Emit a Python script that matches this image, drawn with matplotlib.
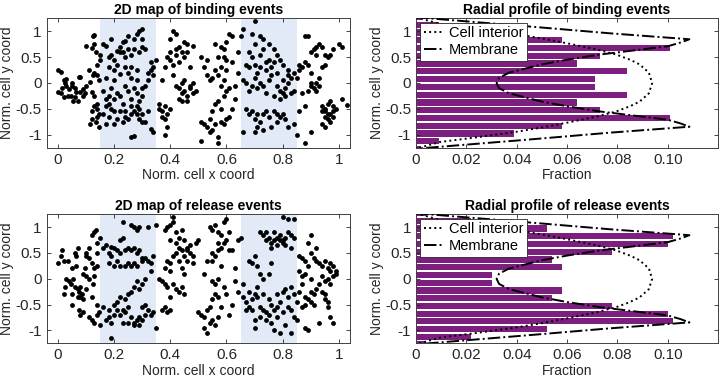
import matplotlib
matplotlib.use('Agg')
import matplotlib.pyplot as plt

plt.rcParams['font.family'] = ['Liberation Sans', 'DejaVu Sans']
plt.rcParams['font.size'] = 10

# binding events (normalised cell coords)
bind_x = [0.0, 0.01, 0.0, 0.01, 0.02, 0.02, 0.03, 0.03, 0.04, 0.045, 0.05, 0.05, 0.06, 0.06, 0.065, 0.07,
          0.075, 0.08, 0.08, 0.09, 0.09, 0.095, 0.1, 0.1, 0.055, 0.035, 0.015, 0.025,
          0.11, 0.115, 0.12, 0.12, 0.12, 0.115, 0.125, 0.13, 0.13, 0.135, 0.14, 0.14, 0.14, 0.135, 0.145,
          0.145, 0.13, 0.14, 0.13, 0.13, 0.15, 0.15, 0.12, 0.145, 0.125, 0.14,
          0.16, 0.17, 0.18, 0.18, 0.19, 0.2, 0.2, 0.21, 0.22, 0.22, 0.23, 0.23, 0.24, 0.24, 0.25, 0.25,
          0.26, 0.27, 0.28, 0.29, 0.29, 0.3, 0.3, 0.31, 0.28, 0.26, 0.24, 0.21, 0.19, 0.27, 0.3, 0.32,
          0.33, 0.33, 0.34, 0.34, 0.35, 0.32, 0.17, 0.2, 0.22, 0.25, 0.26, 0.28,
          0.16, 0.17, 0.18, 0.19, 0.2, 0.21, 0.22, 0.23, 0.24, 0.25, 0.26, 0.27, 0.28, 0.29, 0.3, 0.3,
          0.31, 0.17, 0.18, 0.19, 0.2, 0.26,
          0.16, 0.17, 0.2, 0.21, 0.22, 0.23, 0.24, 0.25, 0.26, 0.27, 0.28, 0.29, 0.3, 0.31, 0.33, 0.34,
          0.32, 0.27, 0.26, 0.24, 0.18, 0.3, 0.29, 0.28,
          0.36, 0.37, 0.37, 0.38, 0.38, 0.39, 0.39, 0.4, 0.38, 0.36, 0.37, 0.38, 0.39, 0.4, 0.4, 0.41,
          0.42, 0.42, 0.43, 0.43, 0.44, 0.45, 0.46, 0.45, 0.47, 0.48, 0.41, 0.42, 0.43, 0.44, 0.44, 0.45,
          0.46, 0.47, 0.48, 0.49, 0.43, 0.44, 0.46, 0.47, 0.45, 0.4, 0.41, 0.48, 0.42, 0.46,
          0.51, 0.52, 0.51, 0.53, 0.54, 0.54, 0.55, 0.56, 0.57, 0.57, 0.58, 0.59, 0.6, 0.61, 0.55, 0.56,
          0.57, 0.58, 0.59, 0.6, 0.58, 0.57, 0.56, 0.58, 0.59, 0.6, 0.57, 0.56, 0.58, 0.59, 0.6, 0.61,
          0.62, 0.64, 0.62, 0.6, 0.53, 0.52, 0.51, 0.53, 0.54, 0.55, 0.61, 0.63, 0.64, 0.62, 0.63, 0.65,
          0.66, 0.59,
          0.66, 0.67, 0.68, 0.68, 0.69, 0.7, 0.7, 0.71, 0.72, 0.72, 0.73, 0.73, 0.74, 0.75, 0.76, 0.77,
          0.78, 0.79, 0.7, 0.69, 0.74, 0.72, 0.75, 0.77, 0.8, 0.78,
          0.67, 0.68, 0.69, 0.7, 0.71, 0.72, 0.73, 0.74, 0.75, 0.76, 0.78, 0.79, 0.8, 0.81, 0.82, 0.83,
          0.84, 0.8, 0.82, 0.84, 0.85, 0.83, 0.81, 0.79, 0.77, 0.82,
          0.67, 0.68, 0.69, 0.7, 0.7, 0.71, 0.72, 0.73, 0.74, 0.75, 0.76, 0.77, 0.78, 0.79, 0.8, 0.81,
          0.82, 0.84, 0.85, 0.66, 0.71, 0.73, 0.78,
          0.86, 0.87, 0.86, 0.88, 0.89, 0.9, 0.88, 0.89, 0.9, 0.91, 0.92, 0.93, 0.94, 0.95, 0.96, 0.97,
          0.95, 0.94, 0.93, 0.9, 0.9, 0.91, 0.92, 0.93, 0.89, 0.88, 0.9, 0.88, 0.86, 0.87, 0.92, 1.0,
          1.01, 0.98, 0.94, 0.95, 0.95, 0.96, 0.97, 0.98, 0.96, 0.95, 0.94, 0.95, 0.97, 0.98, 1.01, 1.03,
          0.99, 0.96, 0.97, 0.94, 0.98, 0.92]
bind_y = [0.25, 0.22, -0.18, -0.2, -0.28, 0.05, -0.05, 0.08, -0.12, -0.25, -0.05, 0.0, -0.1, -0.28, -0.18, -0.35,
          0.12, 0.12, -0.17, -0.25, -0.12, -0.2, -0.05, 0.72, -0.35, -0.25, -0.1, 0.0,
          0.25, 0.02, -0.18, -0.55, -0.7, -0.8, 0.9, 0.92, 0.75, 0.6, -0.4, -0.5, -0.65, -0.75, -0.85,
          -0.6, 0.2, 0.15, -0.25, -0.45, 0.55, 0.45, 0.68, 0.05, 0.15, 0.35,
          0.75, 0.72, 0.3, 0.5, 0.55, 0.45, 0.25, 0.35, 0.7, 0.6, 0.6, 0.8, 0.82, 0.5, 0.9, 0.65,
          0.55, 0.65, 0.95, 1.0, 0.6, 1.05, 0.7, 0.65, 0.25, 0.3, 0.3, 0.62, 0.85, 0.85, 0.85, 0.2,
          0.4, 0.25, 0.15, 0.3, 0.45, 0.05, 0.1, 0.05, 0.18, 0.2, 0.1, 0.05,
          -0.15, -0.3, -0.25, -0.1, -0.3, -0.2, -0.25, -0.4, -0.05, -0.15, -0.3, -0.1, -0.2, -0.35, -0.25, -0.1,
          -0.05, -0.45, -0.4, -0.5, -0.55, -0.45,
          -0.6, -0.8, -0.8, -0.7, -0.55, -0.75, -0.65, -0.7, -0.6, -0.55, -0.6, -0.7, -0.75, -0.75, -0.88, -0.95,
          -0.55, -1.02, -1.05, -0.55, -0.65, -0.6, -0.5, -0.45,
          -0.5, -0.55, -0.65, -0.45, -0.7, -0.6, -0.85, -0.5, -1.0, -0.4, 0.05, 0.3, 0.5, 0.6, 0.85, 1.0,
          0.95, 0.55, 0.7, 0.4, 0.6, 0.8, 0.75, 0.5, 0.3, 0.72, 0.15, -0.05, -0.1, 0.0, -0.2, -0.15,
          -0.25, -0.1, -0.2, -0.15, -0.3, -0.35, -0.35, -0.05, 0.05, 0.45, 0.35, 0.0, 0.65, 0.6,
          -0.75, -0.8, -1.12, -0.85, -0.7, -0.95, -0.9, -0.8, -1.05, -1.15, -0.75, -0.8, -0.7, -0.65, -0.55, -0.4,
          -0.35, -0.5, -0.25, -0.15, -0.05, 0.15, 0.25, 0.3, 0.5, 0.45, 0.5, 0.75, 0.7, 0.65, 0.8, 0.95,
          0.9, 0.6, 0.4, 0.25, 0.15, 0.3, 0.5, 0.45, 0.05, 0.1, -0.1, -0.05, 0.2, -0.5, -0.3, 0.9,
          1.05, 0.05,
          0.05, 0.35, 0.3, 0.6, 0.5, 0.75, 0.35, 0.2, 0.55, 0.9, 0.85, 0.65, 0.4, 0.75, 0.3, 0.65,
          0.2, 0.45, 1.2, 0.95, 0.25, 0.3, 0.45, 0.4, 0.35, 0.55,
          0.0, -0.15, -0.05, 0.1, -0.1, 0.0, -0.05, -0.2, 0.05, 0.15, -0.05, -0.15, -0.2, -0.1, 0.0, -0.2,
          -0.15, 0.05, 0.25, 0.2, 0.1, 0.1, -0.25, -0.3, -0.25, 0.15,
          -0.5, -0.6, -0.55, -0.7, -0.95, -0.85, -0.75, -0.6, -0.55, -0.65, -0.85, -0.55, -0.6, -0.65, -0.6, -0.7,
          -0.85, -0.8, -1.0, -0.95, -0.6, -0.9, -0.75,
          0.35, 0.3, 0.25, 0.4, 0.35, 0.2, 0.9, 0.9, 0.6, 0.65, 0.7, 0.75, 0.7, 0.55, 0.5, 0.55,
          0.35, 0.3, 0.1, 0.0, -0.05, -0.1, -0.15, -0.05, -0.15, -0.45, -0.95, -1.15, -0.55, -0.2, 0.0, 0.75,
          0.7, 0.65, -0.45, -0.5, -0.55, -0.6, -0.6, -0.65, -0.4, -0.65, -0.8, -0.85, -0.35, -0.45, -0.3, -0.42,
          -0.5, -0.7, -0.75, -0.55, -0.55, 0.55]

# release events
rel_x = [0.0, 0.01, 0.015, 0.02, 0.02, 0.025, 0.03, 0.035, 0.04, 0.045, 0.05, 0.05, 0.055, 0.06, 0.065, 0.065,
         0.07, 0.07, 0.075, 0.08, 0.08, 0.085, 0.09, 0.09, 0.095, 0.1, 0.1, 0.1, 0.11, 0.11, 0.11, 0.12,
         0.12, 0.13, 0.135, 0.14, 0.14, 0.14, 0.145, 0.13, 0.15, 0.12, 0.13, 0.07, 0.08, 0.075, 0.125, 0.13,
         0.12, 0.14, 0.15, 0.06, 0.09, 0.05, 0.11, 0.14, 0.1,
         0.16, 0.17, 0.18, 0.19, 0.2, 0.21, 0.22, 0.23, 0.22, 0.24, 0.25, 0.26, 0.27, 0.28, 0.29, 0.24,
         0.22, 0.25, 0.26, 0.27, 0.28, 0.3, 0.31, 0.32, 0.33, 0.33, 0.34, 0.35, 0.32, 0.27, 0.28, 0.29,
         0.26, 0.23, 0.19, 0.21, 0.3, 0.18, 0.2,
         0.16, 0.17, 0.18, 0.19, 0.2, 0.21, 0.22, 0.23, 0.24, 0.25, 0.26, 0.27, 0.28, 0.29, 0.3, 0.31,
         0.32, 0.33, 0.34, 0.35, 0.19, 0.22, 0.24, 0.25, 0.26, 0.27, 0.28, 0.29, 0.3, 0.31, 0.25, 0.27,
         0.29, 0.31, 0.3, 0.21, 0.2, 0.23, 0.18,
         0.36, 0.37, 0.37, 0.38, 0.39, 0.4, 0.38, 0.39, 0.4, 0.41, 0.41, 0.42, 0.43, 0.44, 0.45, 0.46,
         0.47, 0.48, 0.47, 0.45, 0.44, 0.43, 0.42, 0.41, 0.4, 0.39, 0.38, 0.4, 0.41, 0.42, 0.43, 0.44,
         0.45, 0.39, 0.38, 0.4, 0.44, 0.46, 0.48, 0.49, 0.5, 0.45, 0.46, 0.42, 0.4, 0.43,
         0.5, 0.51, 0.52, 0.52, 0.53, 0.54, 0.55, 0.56, 0.57, 0.53, 0.54, 0.55, 0.56, 0.57, 0.58, 0.55,
         0.56, 0.57, 0.53, 0.55, 0.56, 0.57, 0.58, 0.59, 0.6, 0.61, 0.62, 0.54, 0.55, 0.56, 0.57, 0.58,
         0.59, 0.6, 0.57, 0.61, 0.63, 0.64, 0.62, 0.61, 0.6, 0.59, 0.58, 0.52, 0.55, 0.63, 0.64, 0.65,
         0.72, 0.73, 0.74, 0.75, 0.76, 0.77, 0.78, 0.79, 0.8, 0.81, 0.82, 0.83, 0.84, 0.8, 0.82, 0.84,
         0.76, 0.78, 0.8, 0.74, 0.77, 0.79, 0.81, 0.83, 0.7, 0.68, 0.69, 0.71, 0.72, 0.73, 0.76, 0.75,
         0.66, 0.67, 0.68, 0.69, 0.7, 0.71, 0.72, 0.73, 0.74, 0.75, 0.76, 0.77, 0.78, 0.79, 0.8, 0.81,
         0.82, 0.83, 0.84, 0.7, 0.72, 0.74, 0.76, 0.77, 0.79, 0.81, 0.83, 0.84, 0.85, 0.66, 0.68, 0.69,
         0.71, 0.73, 0.75, 0.78, 0.8, 0.82, 0.85, 0.67, 0.7, 0.78, 0.83, 0.86,
         0.86, 0.87, 0.88, 0.89, 0.9, 0.91, 0.92, 0.93, 0.94, 0.95, 0.96, 0.97, 0.98, 0.99, 0.98, 0.97,
         0.96, 0.95, 0.94, 0.93, 0.92, 0.91, 0.9, 0.89, 0.88, 0.87, 0.88, 0.9, 0.91, 0.95, 0.96, 0.97,
         0.98, 0.93, 0.88, 0.89, 0.86, 0.87, 0.9, 0.92, 0.9, 0.89, 0.95, 0.97, 0.99, 0.94, 0.96, 0.87,
         0.88]
rel_y = [0.3, 0.45, 0.55, 0.35, -0.3, -0.15, 0.0, 0.35, -0.05, -0.1, -0.5, -0.3, 0.0, -0.15, 0.25, 0.45,
         0.6, -0.2, -0.25, -0.15, -0.35, -0.3, -0.4, 0.1, 0.2, -0.2, 0.5, 0.45, 0.6, 0.4, -0.75, -0.8,
         0.85, 0.9, 0.95, 0.7, 0.5, -0.5, -0.65, -0.85, -0.9, 0.3, 0.2, -0.35, -0.7, -0.6, -0.1, 0.05,
         -0.35, -0.7, 0.8, 0.5, -0.65, 0.2, 0.0, 0.25, 0.05,
         0.6, 0.65, 0.5, 0.62, 0.6, 0.55, 0.75, 0.8, 0.5, 0.55, 0.6, 0.55, 0.6, 0.5, 0.55, 0.25,
         0.25, 0.3, 0.25, 0.3, 0.25, 0.35, 0.4, 0.35, 0.3, 0.15, 0.45, 1.05, 1.0, 1.0, 0.95, 1.0,
         1.05, 1.1, 0.45, 0.35, 0.4, 0.3, 0.25,
         -0.55, -0.8, -0.75, -0.85, -0.7, -0.6, -0.7, -0.6, -0.65, -0.55, -0.75, -0.85, -0.8, -0.9, -0.8, -0.7,
         -0.6, -0.7, -0.65, -0.95, -1.15, -0.35, -0.4, -0.3, -0.25, -0.15, -0.05, -0.2, -0.1, 0.0, -0.85, -0.9,
         -0.75, -0.5, -0.55, -0.45, -0.5, -0.85, -0.6,
         0.0, -0.05, -0.6, -0.55, -0.65, -0.6, 0.95, 1.0, 1.05, 1.2, 1.1, 0.9, 0.8, 0.95, 0.75, 0.6,
         0.5, 0.45, 0.65, 0.45, 0.55, 0.6, 0.5, 0.45, 0.3, 0.35, 0.2, 0.15, -0.1, -0.2, -0.25, -0.15,
         -0.3, -0.15, -0.1, -0.35, 0.2, 0.35, 0.3, 0.7, 0.75, 0.1, 0.55, 0.7, 0.75, 0.35,
         -0.65, -0.7, -0.75, -0.95, -1.05, -0.85, -0.8, -0.9, -0.75, -0.6, -0.55, -0.4, -0.3, -0.35, -0.55, -0.05,
         -0.1, 0.0, 0.35, 0.35, 0.45, 0.55, 0.6, 0.7, 0.75, 0.55, 0.55, 1.0, 0.95, 1.05, 0.9, 0.85,
         1.1, 1.15, 0.7, 0.9, -0.05, -0.25, -0.5, -0.7, -0.3, -0.15, 0.25, 0.1, 0.5, 0.2, 0.75, 0.8,
         0.9, 0.85, 0.75, 0.8, 0.7, 0.75, 0.8, 0.85, 0.75, 0.8, 0.9, 0.85, 0.8, 1.2, 1.15, 1.15,
         0.6, 0.65, 0.7, 0.9, 0.9, 0.75, 0.65, 0.6, 0.45, 0.35, 0.3, 0.25, 0.1, 0.0, 0.3, 0.1,
         -0.35, -0.45, -0.55, -0.6, -0.3, -0.35, -0.55, -0.6, -0.65, -0.4, -0.5, -0.6, -0.55, -0.45, -0.25, -0.2,
         -0.35, -0.15, -0.3, -0.95, -0.75, -0.8, -0.85, -1.0, -1.05, -0.9, -1.05, -0.75, -0.8, -0.1, -0.25, -0.4,
         -0.15, -0.3, -0.7, -0.75, -0.65, -0.55, -0.45, -0.6, -0.8, -0.3, -0.6, -0.25,
         0.45, 0.4, 0.35, 0.25, 0.5, 0.4, 0.35, 0.3, 0.25, 0.35, 0.2, 0.3, 0.25, 0.15, 0.05, 0.15,
         0.0, -0.05, 0.05, -0.1, -0.2, -0.3, -0.25, -0.4, -0.5, -0.55, -0.35, -0.45, -0.5, -0.4, -0.45, -0.75,
         -0.85, -0.85, -0.95, -1.0, 0.15, 0.05, 0.0, 0.6, 0.85, 0.7, -0.3, -0.1, 0.1, -0.25, -0.55, -0.1,
         0.1]

# radial profile histograms
bin_centers = [-1.275, -1.125, -0.975, -0.825, -0.675, -0.525, -0.375, -0.225, -0.075,
               0.075, 0.225, 0.375, 0.525, 0.675, 0.825, 0.975, 1.125, 1.275]
bind_frac = [0.002, 0.009, 0.039, 0.058, 0.101, 0.073, 0.064, 0.084, 0.071,
             0.071, 0.084, 0.064, 0.073, 0.101, 0.058, 0.039, 0.009, 0.002]
rel_frac = [0.004, 0.022, 0.052, 0.102, 0.100, 0.078, 0.054, 0.058, 0.030,
            0.030, 0.058, 0.054, 0.078, 0.100, 0.102, 0.052, 0.022, 0.004]

# model curves
interior_y = [1.27, 1.14, 1.05, 0.95, 0.86, 0.77, 0.65, 0.55, 0.45, 0.36, 0.2, 0.0,
              -0.2, -0.36, -0.45, -0.55, -0.65, -0.77, -0.86, -0.95, -1.05, -1.14, -1.27]
interior_x = [0.0, 0.0095, 0.024, 0.039, 0.05, 0.0597, 0.0716, 0.0795, 0.085, 0.0888, 0.0925, 0.0938,
              0.0925, 0.0888, 0.085, 0.0795, 0.0716, 0.0597, 0.05, 0.039, 0.024, 0.0095, 0.0]
membrane_y = [1.27, 1.1, 0.96, 0.845, 0.78, 0.71, 0.62, 0.55, 0.45, 0.36, 0.2, 0.1, 0.0,
              -0.1, -0.2, -0.36, -0.45, -0.55, -0.62, -0.71, -0.78, -0.845, -0.96, -1.1, -1.27]
membrane_x = [0.0, 0.043, 0.077, 0.1086, 0.105, 0.1, 0.085, 0.073, 0.06, 0.05, 0.037, 0.033, 0.032,
              0.033, 0.037, 0.05, 0.06, 0.073, 0.085, 0.1, 0.105, 0.1086, 0.077, 0.043, 0.0]

bands = [(0.15, 0.35), (0.65, 0.85)]

fig = plt.figure(figsize=(7.21, 3.78), dpi=100)
frame_col = '#404040'


def style_axes(ax):
    ax.tick_params(direction='in', top=True, right=True, length=3, width=0.6,
                   colors='#262626', labelsize=11)
    for s in ax.spines.values():
        s.set_color(frame_col)
        s.set_linewidth(0.7)
    ax.set_yticks([-1, -0.5, 0, 0.5, 1])
    ax.set_yticklabels(['-1', '-0.5', '0', '0.5', '1'])
    ax.set_ylim(-1.25, 1.25)


def map_panel(rect, xs, ys, title):
    ax = fig.add_axes(rect)
    for a, b in bands:
        ax.axvspan(a, b, color='#e1eaf6', lw=0, zorder=0)
    ax.scatter(xs, ys, s=12, c='black', linewidths=0, zorder=2)
    ax.set_xlim(-0.04, 1.04)
    ax.set_xticks([0, 0.2, 0.4, 0.6, 0.8, 1])
    ax.set_xticklabels(['0', '0.2', '0.4', '0.6', '0.8', '1'])
    style_axes(ax)
    ax.set_title(title, fontsize=10, fontweight='bold', pad=3)
    ax.set_xlabel('Norm. cell x coord', labelpad=1, color='#262626')
    ax.set_ylabel('Norm. cell y coord', labelpad=1, color='#262626')
    return ax


def profile_panel(rect, frac, title):
    ax = fig.add_axes(rect)
    ax.barh(bin_centers, frac, height=0.12, color='#7d1f7f', zorder=1)
    ax.plot(interior_x, interior_y, ':', color='black', lw=1.4, label='Cell interior', zorder=3)
    ax.plot(membrane_x, membrane_y, '-.', color='black', lw=1.4, label='Membrane', zorder=3)
    ax.set_xlim(0, 0.12)
    ax.set_xticks([0, 0.02, 0.04, 0.06, 0.08, 0.10])
    ax.set_xticklabels(['0', '0.02', '0.04', '0.06', '0.08', '0.10'])
    style_axes(ax)
    ax.set_title(title, fontsize=10, fontweight='bold', pad=3)
    ax.set_xlabel('Fraction', labelpad=1, color='#262626')
    ax.set_ylabel('Norm. cell y coord', labelpad=1, color='#262626')
    leg = ax.legend(loc='upper left', fontsize=10.5, handlelength=1.3, handletextpad=0.4,
                    borderpad=0.25, labelspacing=0.2, borderaxespad=0.3, fancybox=False,
                    framealpha=1)
    leg.get_frame().set_edgecolor('#262626')
    leg.get_frame().set_linewidth(0.6)
    return ax


map_panel([0.0648, 0.6093, 0.4207, 0.3423], bind_x, bind_y, '2D map of binding events')
profile_panel([0.577, 0.6093, 0.419, 0.3423], bind_frac, 'Radial profile of binding events')
map_panel([0.0648, 0.0918, 0.4207, 0.3413], rel_x, rel_y, '2D map of release events')
profile_panel([0.577, 0.0918, 0.419, 0.3413], rel_frac, 'Radial profile of release events')

fig.savefig('out.png', dpi=100)
